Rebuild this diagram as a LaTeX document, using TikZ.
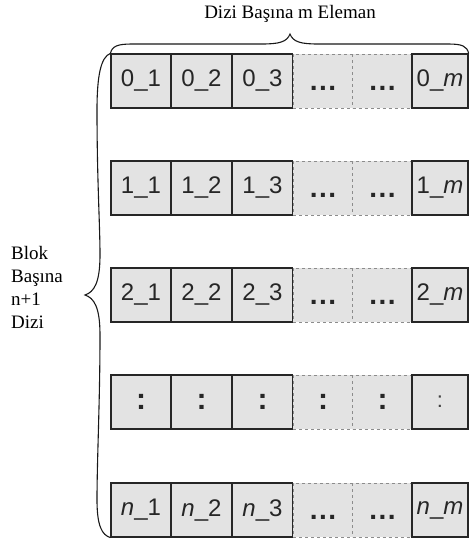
\documentclass[tikz,border=0pt]{standalone}
\usepackage{fontspec}
\setmainfont{Liberation Serif}
\newfontfamily\cellfont{Liberation Sans}
\begin{document}
\begin{tikzpicture}[x=1pt,y=-1pt,
  cellbox/.style={draw=black!85, line width=1.2pt, fill=black!11, minimum width=60pt, minimum height=54pt, inner sep=0pt, font=\cellfont\fontsize{24}{24}\selectfont, text=black!85},
  dashbox/.style={cellbox, draw=black!45, dashed, line width=0.8pt},
  bigdots/.style={font=\cellfont\bfseries\fontsize{28}{28}\selectfont},
  bigcolon/.style={font=\cellfont\bfseries\fontsize{30}{30}\selectfont},
  bracestyle/.style={draw=black!90, line width=1.1pt},
  lbl/.style={font=\fontsize{19}{23}\selectfont, align=left}]
\path[use as bounding box] (0,0) rectangle (469,541);
\clip (0,0) rectangle (469,541);
\foreach \r/\y/\p in {0/81/0,1/188/1,2/295/2,4/510/{\textit{n}}}{
  \node[dashbox, bigdots] (r\r c4) at (323,\y) {\vphantom{0}.\kern1.5pt.\kern1.5pt.};
  \node[dashbox, bigdots] (r\r c5) at (382.5,\y) {\vphantom{0}.\kern1.5pt.\kern1.5pt.};
  \node[cellbox] (r\r c1) at (141,\y) {\p\_1};
  \node[cellbox] (r\r c2) at (201.5,\y) {\p\_2};
  \node[cellbox] (r\r c3) at (262.5,\y) {\p\_3};
  \node[cellbox, minimum width=56pt] (r\r c6) at (440,\y) {\p\_\textit{m}};
}
\node[dashbox, bigcolon] (r3c4) at (323,402) {:};
\node[dashbox, bigcolon] (r3c5) at (382.5,402) {:};
\node[cellbox, bigcolon] (r3c1) at (141,402) {:};
\node[cellbox, bigcolon] (r3c2) at (201.5,402) {:};
\node[cellbox, bigcolon] (r3c3) at (262.5,402) {:};
\node[cellbox, minimum width=56pt, font=\cellfont\fontsize{22}{22}\selectfont, text=black!75] (r3c6) at (440,402) {:};
% braces
\draw[bracestyle] (r0c1.north west) .. controls (112,46) and (118,44) .. (132,44)
  -- (262,44) .. controls (279,44) and (287,42) .. (290,34)
  .. controls (293,42) and (301,44) .. (318,44) -- (448,44)
  .. controls (462,44) and (467,46) .. (r0c6.north east);
\draw[bracestyle] (r0c1.north west) .. controls (101,57) and (97,75) .. (97,110)
  .. controls (97,180) and (100,225) .. (100,255)
  .. controls (100,283) and (94,292) .. (85,295)
  .. controls (94,298) and (100,307) .. (100,335)
  .. controls (100,400) and (97,460) .. (97,500)
  .. controls (97,526) and (102,535) .. (r4c1.south west);
\node[font=\fontsize{19}{23}\selectfont] (toplbl) at (290,14) {Dizi Başına m Eleman};
\node[lbl, anchor=west, inner sep=0pt] (leftlbl) at (11,287) {Blok\\Başına\\n+1\\Dizi};
\end{tikzpicture}
\end{document}
